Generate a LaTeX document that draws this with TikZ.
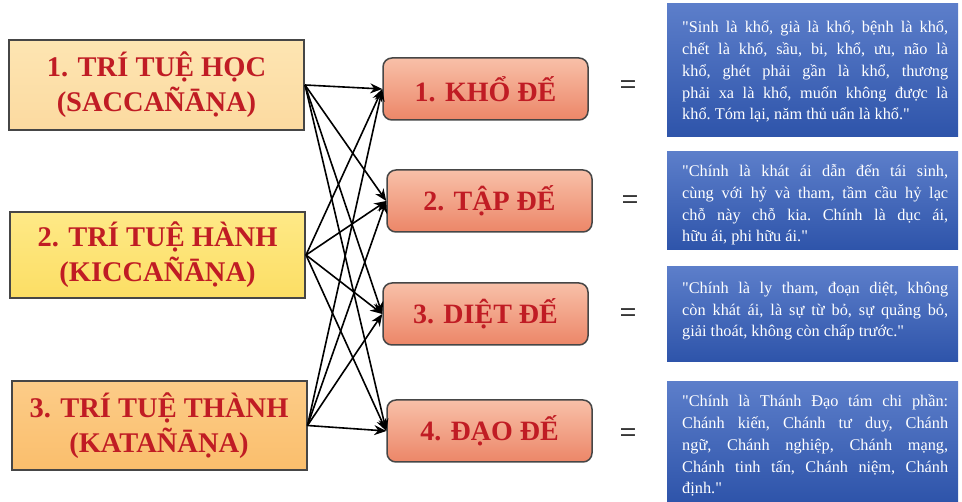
\documentclass[tikz,border=0pt]{standalone}
\usepackage{fontspec}
\setmainfont{Liberation Serif}
\newfontfamily\bluefont{Liberation Serif}
\usetikzlibrary{arrows.meta}
\definecolor{dred}{RGB}{192,28,36}
\definecolor{bordergray}{RGB}{70,70,70}
\definecolor{lone}{RGB}{253,229,178}
\definecolor{loneb}{RGB}{252,218,160}
\definecolor{ltwo}{RGB}{254,233,135}
\definecolor{ltwob}{RGB}{252,222,100}
\definecolor{lthree}{RGB}{252,204,136}
\definecolor{lthreeb}{RGB}{250,190,108}
\definecolor{midtop}{RGB}{248,192,168}
\definecolor{midbot}{RGB}{236,134,104}
\definecolor{bluetop}{RGB}{92,126,202}
\definecolor{bluebot}{RGB}{46,84,170}
\newcommand\jline[1]{\makebox[266pt][s]{#1}}
\begin{document}
\begin{tikzpicture}[x=1pt,y=-1pt,
  leftbox/.style={draw=bordergray, line width=2pt, minimum width=295pt, align=center,
    text=dred, font=\bfseries\fontsize{28.5}{35}\selectfont, inner sep=0pt},
  midbox/.style={draw=bordergray, line width=1.5pt, rounded corners=9pt,
    top color=midtop, bottom color=midbot, minimum width=205pt, minimum height=62pt,
    text=dred, font=\bfseries\fontsize{28}{30}\selectfont, inner sep=0pt},
  bluebox/.style={top color=bluetop, bottom color=bluebot, draw=none, minimum width=291pt, inner sep=0pt},
  bluetext/.style={text=white, font=\bluefont\frenchspacing\fontsize{16.3}{21.8}\selectfont, align=left, inner sep=0pt, anchor=base west},
  eqsign/.style={font=\fontsize{30}{30}\selectfont, inner sep=0pt},
  conn/.style={line width=1.6pt, -{Stealth[length=12pt,width=10pt]}}
]
\useasboundingbox (0,0) rectangle (962,502);
\fill[white] (0,0) rectangle (962,502);

% left boxes
\node[leftbox, top color=lone, bottom color=loneb, minimum height=90pt] (L1) at (156.5,85) {1. TRÍ TUỆ HỌC\\(SACCAÑĀṆA)};
\node[leftbox, top color=ltwo, bottom color=ltwob, minimum height=86pt] (L2) at (157.5,255) {2. TRÍ TUỆ HÀNH\\(KICCAÑĀṆA)};
\node[leftbox, top color=lthree, bottom color=lthreeb, minimum height=89pt] (L3) at (159,425.5) {3. TRÍ TUỆ THÀNH\\(KATAÑĀṆA)};

% middle boxes
\node[midbox] (K1) at (485.5,89) {1. KHỔ ĐẾ};
\node[midbox] (K2) at (489.5,201) {2. TẬP ĐẾ};
\node[midbox] (K3) at (485.5,314) {3. DIỆT ĐẾ};
\node[midbox] (K4) at (489.5,431) {4. ĐẠO ĐẾ};

% connectors
\foreach \l in {L1,L2,L3}{
  \foreach \k in {K1,K2,K3,K4}{
    \draw[conn] (\l.east) -- (\k.west);
  }
}

% equals signs
\node[eqsign] (E1) at (628,88) {=};
\node[eqsign] (E2) at (630,203) {=};
\node[eqsign] (E3) at (628,316) {=};
\node[eqsign] (E4) at (628,436) {=};

% blue boxes
\node[bluebox, minimum height=133pt] (B1) at (812.5,70.5) {};
\node[bluebox, minimum height=98pt] (B2) at (812.5,201) {};
\node[bluebox, minimum height=95pt] (B3) at (812.5,314.5) {};
\node[bluebox, minimum height=120pt] (B4) at (812.5,442) {};

\node[bluetext] (T1) at (682,120) {\jline{"Sinh là khổ, già là khổ, bệnh là khổ,}\\
\jline{chết là khổ, sầu, bi, khổ, ưu, não là}\\
\jline{khổ, ghét phải gần là khổ, thương}\\
\jline{phải xa là khổ, muốn không được là}\\
khổ. Tóm lại, năm thủ uẩn là khổ."};

\node[bluetext] (T2) at (682,242) {\jline{"Chính là khát ái dẫn đến tái sinh,}\\
\jline{cùng với hỷ và tham, tầm cầu hỷ lạc}\\
\jline{chỗ này chỗ kia. Chính là dục ái,}\\
hữu ái, phi hữu ái."};

\node[bluetext] (T3) at (682,337) {\jline{"Chính là ly tham, đoạn diệt, không}\\
\jline{còn khát ái, là sự từ bỏ, sự quăng bỏ,}\\
giải thoát, không còn chấp trước."};

\node[bluetext] (T4) at (682,494) {\jline{"Chính là Thánh Đạo tám chi phần:}\\
\jline{Chánh kiến, Chánh tư duy, Chánh}\\
\jline{ngữ, Chánh nghiệp, Chánh mạng,}\\
\jline{Chánh tinh tấn, Chánh niệm, Chánh}\\
định."};
\end{tikzpicture}
\end{document}
